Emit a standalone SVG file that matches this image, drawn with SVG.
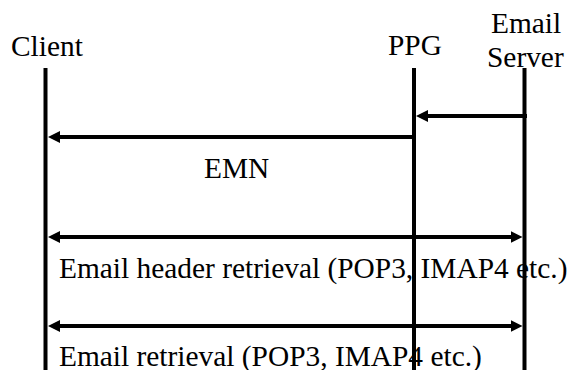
<svg xmlns="http://www.w3.org/2000/svg" width="571" height="370" viewBox="0 0 571 370">
  <style>
    .life { stroke: #000; stroke-width: 4; fill: none; }
    .msg { stroke: #000; stroke-width: 4; fill: none; }
  </style>
  <defs>
    <marker id="arrow" viewBox="0 0 12 12" refX="1" refY="6" markerWidth="12" markerHeight="12" markerUnits="userSpaceOnUse" orient="auto-start-reverse">
      <path d="M0,0 L12,6 L0,12 z" fill="#000"/>
    </marker>
  </defs>
  <rect width="571" height="370" fill="#fff"/>
  <g font-family="'Liberation Serif', 'Times New Roman', serif" font-size="29.4" fill="#000">
  <g id="client">
    <text x="11" y="56">Client</text>
    <line class="life" x1="45.5" y1="68" x2="45.5" y2="370"/>
  </g>
  <g id="ppg">
    <text x="388" y="55">PPG</text>
    <line class="life" x1="414" y1="68" x2="414" y2="370"/>
  </g>
  <g id="email-server">
    <text x="491" y="33">Email</text>
    <text x="487" y="67">Server</text>
    <line class="life" x1="524.5" y1="68" x2="524.5" y2="370"/>
  </g>
  <g id="connectors">
    <line class="msg" x1="527" y1="116" x2="427" y2="116" marker-end="url(#arrow)"/>
    <line class="msg" x1="414" y1="137" x2="59" y2="137" marker-end="url(#arrow)"/>
    <text x="204" y="178">EMN</text>
    <line class="msg" x1="59" y1="237" x2="511.5" y2="237" marker-start="url(#arrow)" marker-end="url(#arrow)"/>
    <text x="59" y="278">Email header retrieval (POP3, IMAP4 etc.)</text>
    <line class="msg" x1="59" y1="326" x2="511.5" y2="326" marker-start="url(#arrow)" marker-end="url(#arrow)"/>
    <text x="59" y="366">Email retrieval (POP3, IMAP4 etc.)</text>
  </g>
  </g>
</svg>
